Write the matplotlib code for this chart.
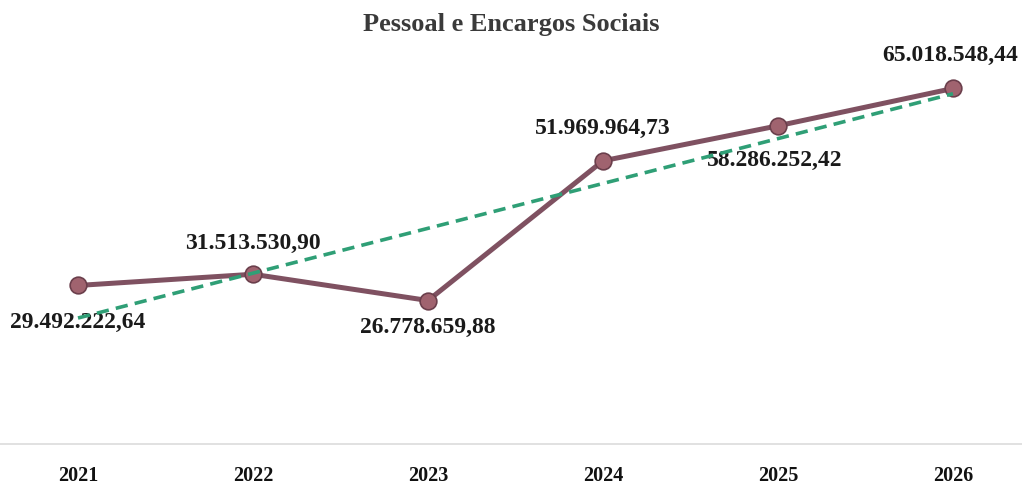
import matplotlib.pyplot as plt
import numpy as np

anos = ["2021", "2022", "2023", "2024", "2025", "2026"]
valores = [29492222.64, 31513530.90, 26778659.88, 51969964.73, 58286252.42, 65018548.44]
rotulos = ["29.492.222,64", "31.513.530,90", "26.778.659,88",
           "51.969.964,73", "58.286.252,42", "65.018.548,44"]
# deslocamento dos rótulos em pixels (acima/abaixo do ponto)
desloc = [(0, -37), (0, 31), (0, -27), (0, 32), (-3, -35), (-3, 33)]

plt.rcParams['font.family'] = ['Liberation Serif', 'DejaVu Serif']

fig = plt.figure(figsize=(10.22, 4.86), dpi=100)
ax = fig.add_axes([0, 42 / 486, 1, 404 / 486])

x = np.arange(len(anos))
y = np.array(valores)

ax.plot(x, y, color='#7f5161', lw=3.6, zorder=2, solid_capstyle='round')
ax.plot(x, y, ls='none', marker='o', ms=12, mfc='#a0636f', mec='#6b3f4c', mew=1.2, zorder=3)

# linha de tendência linear
coef = np.polyfit(x, y, 1)
ax.plot(x, np.polyval(coef, x), color='#2f9f76', lw=2.6, dashes=(3.4, 2.0), zorder=4)

for xi, yi, txt, (dx, dy) in zip(x, y, rotulos, desloc):
    ax.annotate(txt, (xi, yi), xytext=(dx, dy), textcoords='offset pixels',
                ha='center', va='center', fontsize=17, fontweight='bold', color='#1a1a1a')

ax.set_xlim(-78 / 175, 5 + 69 / 175)
ax.set_ylim(0.9e6, 73.76e6)
ax.set_xticks(x)
ax.set_xticklabels(anos, fontsize=14.5, fontweight='bold', color='#111111')
ax.tick_params(axis='x', length=0, pad=15.5)
ax.set_yticks([])
for s in ['top', 'left', 'right']:
    ax.spines[s].set_visible(False)
ax.spines['bottom'].set_color('#dcdcdc')
ax.spines['bottom'].set_linewidth(1.2)

fig.text(0.5, 1 - 25 / 486, "Pessoal e Encargos Sociais", ha='center', va='center',
         fontsize=19, fontweight='bold', color='#3a3a3a')

fig.savefig('out.png', dpi=100)
